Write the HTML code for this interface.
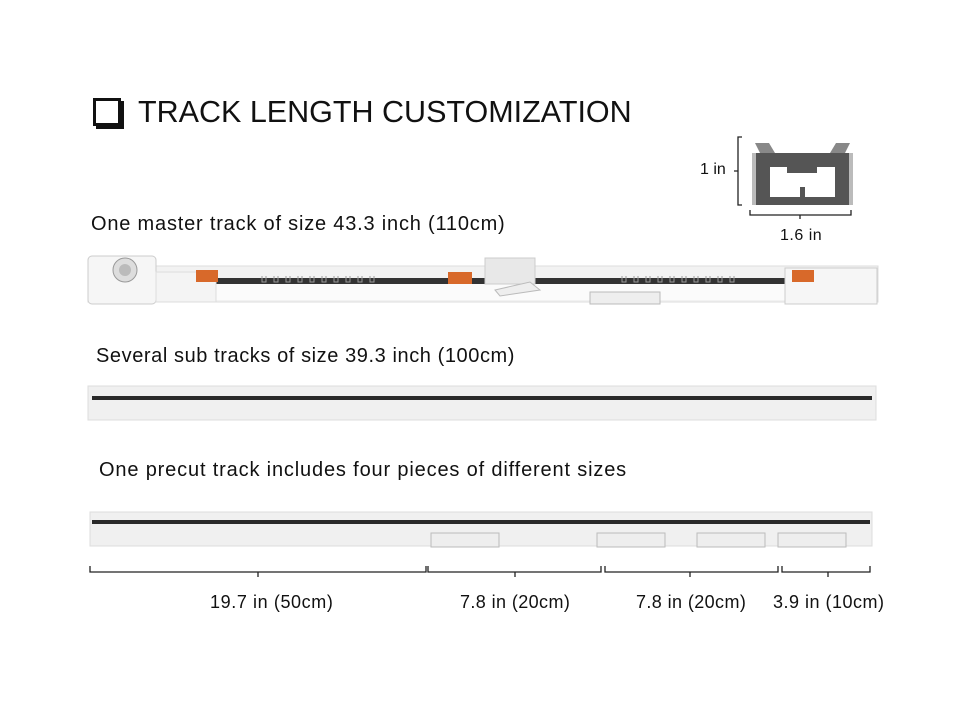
<!DOCTYPE html>
<html><head><meta charset="utf-8"><style>
body{margin:0;width:960px;height:720px;background:#fff;position:relative;overflow:hidden;font-family:"Liberation Sans",sans-serif;color:#111}
.t{position:absolute;white-space:nowrap}
.l{font-size:20px}
</style></head><body>
<div style="position:absolute;left:93px;top:98px;width:22px;height:22px;border:3px solid #111;box-shadow:3px 3px 0 #111"></div>
<div class="t" style="left:138px;top:95px;font-size:30.5px">TRACK LENGTH CUSTOMIZATION</div>
<div class="t l" style="left:91px;top:213px;letter-spacing:0.8px">One master track of size 43.3 inch (110cm)</div>
<div class="t l" style="left:96px;top:345px;letter-spacing:0.58px">Several sub tracks of size 39.3 inch (100cm)</div>
<div class="t l" style="left:99px;top:459px;letter-spacing:0.84px">One precut track includes four pieces of different sizes</div>
<div class="t" style="left:700px;top:161px;font-size:16px">1 in</div>
<div class="t" style="left:780px;top:227px;font-size:16px;letter-spacing:0.5px">1.6 in</div>
<div class="t" style="left:210px;top:592px;font-size:18px;letter-spacing:0.6px">19.7 in (50cm)</div>
<div class="t" style="left:460px;top:592px;font-size:18px;letter-spacing:0.4px">7.8 in (20cm)</div>
<div class="t" style="left:636px;top:592px;font-size:18px;letter-spacing:0.4px">7.8 in (20cm)</div>
<div class="t" style="left:773px;top:592px;font-size:18px;letter-spacing:0.5px">3.9 in (10cm)</div>
<svg width="960" height="720" style="position:absolute;left:0;top:0">
<g fill="none" stroke="#222" stroke-width="1.3">
<path d="M742 137h-4v68h4M738 171h-4"/>
<path d="M750 210v5h101v-5M800 215v4"/>
<path d="M90 566v6h336v-6M258 572v5"/>
<path d="M428 566v6h173v-6M515 572v5"/>
<path d="M605 566v6h173v-6M690 572v5"/>
<path d="M782 566v6h88v-6M828 572v5"/>
</g>
<path d="M752 153h8l-5-10h14l6 10h20v13h-18v2h-4zM853 153h-8l5-10h-14l-6 10h-20v13h18" fill="#888"/>
<path d="M752 153h101v52h-101z" fill="#555"/>
<path d="M770 167h17v6h30v-6h18v30h-30v-10h-5v10h-30z" fill="#fff"/>
<path d="M752 153v52h4v-52zM849 153v52h4v-52z" fill="#bbb"/>
<rect x="88" y="266" width="790" height="36" fill="#f2f2f2" stroke="#ddd"/>
<rect x="150" y="278" width="700" height="6" fill="#333"/>
<rect x="150" y="284" width="700" height="16" fill="#fbfbfb"/>
<rect x="88" y="256" width="68" height="48" rx="4" fill="#f6f6f6" stroke="#ccc"/>
<circle cx="125" cy="270" r="12" fill="#ddd" stroke="#999"/>
<circle cx="125" cy="270" r="6" fill="#bbb"/>
<rect x="156" y="272" width="60" height="30" fill="#f4f4f4" stroke="#ddd"/>
<rect x="196" y="270" width="22" height="12" fill="#d8692a"/>
<rect x="448" y="272" width="24" height="12" fill="#d8692a"/>
<rect x="485" y="258" width="50" height="26" fill="#e8e8e8" stroke="#ccc"/>
<path d="M495 290l35-8 10 8-40 6z" fill="#eee" stroke="#bbb"/>
<rect x="590" y="292" width="70" height="12" fill="#eee" stroke="#bbb"/>
<rect x="785" y="268" width="92" height="36" fill="#f6f6f6" stroke="#ccc"/>
<rect x="792" y="270" width="22" height="12" fill="#d8692a"/>
<g stroke="#999" fill="none" stroke-width="1">
<path d="M262 276v6h4v-6M274 276v6h4v-6M286 276v6h4v-6M298 276v6h4v-6M310 276v6h4v-6M322 276v6h4v-6M334 276v6h4v-6M346 276v6h4v-6M358 276v6h4v-6M370 276v6h4v-6"/>
<path d="M622 276v6h4v-6M634 276v6h4v-6M646 276v6h4v-6M658 276v6h4v-6M670 276v6h4v-6M682 276v6h4v-6M694 276v6h4v-6M706 276v6h4v-6M718 276v6h4v-6M730 276v6h4v-6"/>
</g>
<rect x="88" y="386" width="788" height="34" fill="#f0f0f0" stroke="#ddd"/>
<rect x="92" y="396" width="780" height="4" fill="#2a2a2a"/>
<rect x="90" y="512" width="782" height="34" fill="#f0f0f0" stroke="#ddd"/>
<rect x="92" y="520" width="778" height="4" fill="#2a2a2a"/>
<g fill="#eee" stroke="#bbb">
<rect x="431" y="533" width="68" height="14"/>
<rect x="597" y="533" width="68" height="14"/>
<rect x="697" y="533" width="68" height="14"/>
<rect x="778" y="533" width="68" height="14"/>
</g>
</svg>
</body></html>
